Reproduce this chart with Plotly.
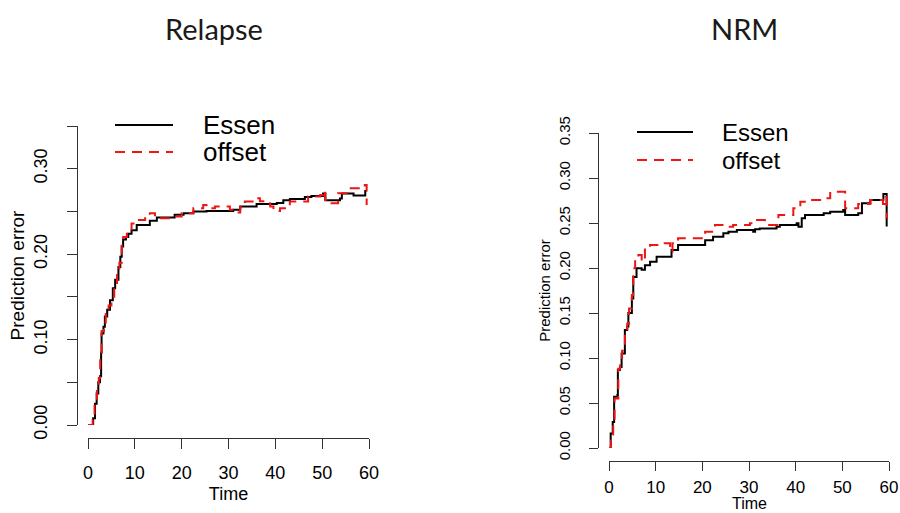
import plotly.graph_objects as go

W, H = 900, 513

# ---------------- data ----------------
relapse_essen_t = [0, 1.1, 1.5, 1.85, 2.2, 2.56, 2.8, 2.9, 3.3, 3.6, 4.1, 4.7, 5.3, 5.8, 6.5, 6.9, 7.2, 7.5,
                   8.1, 8.6, 9.3, 10.4, 13.2, 14.7, 18.5, 20.4, 22.5, 25.3, 31.0, 32.5, 36.0, 40.3, 41.7,
                   43.1, 46.3, 47.7, 50.2, 50.7, 53.8, 54.2, 56.7, 59.2, 59.5]
relapse_essen_y = [0, 0.008, 0.025, 0.037, 0.05, 0.057, 0.085, 0.107, 0.115, 0.127, 0.135, 0.146, 0.16, 0.17,
                   0.185, 0.197, 0.209, 0.217, 0.22, 0.224, 0.228, 0.234, 0.239, 0.243, 0.246, 0.248, 0.250,
                   0.2506, 0.252, 0.2557, 0.2588, 0.260, 0.263, 0.2646, 0.267, 0.268, 0.271, 0.263, 0.265,
                   0.271, 0.2685, 0.274, 0.274]

relapse_offset_t = [0, 1.0, 1.4, 1.9, 2.3, 2.6, 2.9, 3.4, 3.8, 4.4, 5.0, 5.6, 6.2, 6.7, 7.2, 7.5, 8.3, 9.3,
                    9.7, 12.2, 13.2, 14.3, 18.2, 20.0, 22.5, 24.6, 25.3, 27.1, 30.3, 31.4, 32.5, 33.5, 36.0,
                    36.7, 38.9, 39.6, 41.0, 43.1, 47.0, 49.6, 50.2, 50.6, 50.9, 53.4, 55.6, 59.1, 59.5]
relapse_offset_y = [0, 0.006, 0.03, 0.042, 0.055, 0.08, 0.11, 0.12, 0.13, 0.14, 0.15, 0.165, 0.18, 0.19,
                    0.215, 0.22, 0.226, 0.236, 0.24, 0.244, 0.248, 0.242, 0.244, 0.248, 0.2537, 0.2576,
                    0.2537, 0.2557, 0.252, 0.2486, 0.2549, 0.2615, 0.2654, 0.262, 0.2557, 0.2506, 0.2537,
                    0.2615, 0.2674, 0.2693, 0.2744, 0.2635, 0.2596, 0.2713, 0.277, 0.281, 0.2576]

nrm_essen_t = [0, 0.36, 0.8, 1.1, 1.8, 1.9, 2.36, 2.7, 3.4, 3.9, 4.15, 4.9, 5.2, 5.9, 7.0, 7.7, 8.8,
               10.2, 13.4, 14.8, 20.6, 22.3, 24.5, 25.6, 27.4, 30.9, 31.3, 32.3, 35.9, 36.6, 40.2, 40.6,
               41.3, 42.0, 46.0, 47.4, 50.2, 50.6, 53.4, 54.2, 56.0, 58.8, 59.4, 59.5]
nrm_essen_y = [0, 0.016, 0.029, 0.057, 0.059, 0.087, 0.09, 0.105, 0.131, 0.135, 0.15, 0.166, 0.19,
               0.1996, 0.198, 0.203, 0.207, 0.2126, 0.22, 0.2256, 0.2307, 0.2348, 0.2385, 0.2404, 0.2422,
               0.2404, 0.243, 0.244, 0.2459, 0.2478, 0.2496, 0.2459, 0.2552, 0.2589, 0.2607, 0.2626,
               0.2644, 0.2589, 0.2607, 0.2719, 0.2756, 0.2822, 0.2822, 0.246]

nrm_offset_t = [0, 0.4, 0.9, 1.2, 2.0, 2.4, 2.8, 3.4, 3.9, 4.3, 4.9, 5.2, 5.6, 6.3, 7.0, 7.7, 8.8, 10.9,
                13.1, 13.6, 14.8, 20.6, 22.7, 24.8, 26.6, 30.2, 30.9, 33.4, 36.3, 39.5, 41.0, 43.1, 45.6,
                47.4, 50.6, 53.4, 56.0, 58.7, 59.3, 59.5]
nrm_offset_y = [0, 0.015, 0.03, 0.055, 0.088, 0.092, 0.108, 0.128, 0.138, 0.155, 0.17, 0.1996, 0.2089,
                0.2144, 0.2074, 0.2237, 0.2256, 0.2274, 0.218, 0.2274, 0.233, 0.2404, 0.2478, 0.2459,
                0.2478, 0.2496, 0.2533, 0.2478, 0.2589, 0.2663, 0.2737, 0.2756, 0.2774, 0.2848, 0.2663,
                0.271, 0.2756, 0.271, 0.279, 0.2552]

panel_titles = ["Relapse", "NRM"]
series_names = ["Essen", "offset"]
x_title = "Time"
y_title = "Prediction error"
x_ticks = [0, 10, 20, 30, 40, 50, 60]
y_ticks = [0, 0.05, 0.10, 0.15, 0.20, 0.25, 0.30, 0.35]
left_y_labels = ["0.00", "", "0.10", "", "0.20", "", "0.30", ""]
right_y_labels = ["0.00", "0.05", "0.10", "0.15", "0.20", "0.25", "0.30", "0.35"]

# ---------------- figure ----------------
AX_FONT = "Liberation Sans, Arial, sans-serif"
TITLE_FONT = "Lato, Open Sans, sans-serif"
RED = "#ee1515"
BLACK_LINE = dict(color="black", width=2)
RED_LINE = dict(color=RED, width=2, dash="10px,7px")

fig = go.Figure()
fig.add_trace(go.Scatter(x=relapse_essen_t, y=relapse_essen_y, mode="lines", line_shape="hv",
                         line=BLACK_LINE, name=series_names[0], xaxis="x", yaxis="y", showlegend=False))
fig.add_trace(go.Scatter(x=relapse_offset_t, y=relapse_offset_y, mode="lines", line_shape="hv",
                         line=RED_LINE, name=series_names[1], xaxis="x", yaxis="y", showlegend=False))
fig.add_trace(go.Scatter(x=nrm_essen_t, y=nrm_essen_y, mode="lines", line_shape="hv",
                         line=BLACK_LINE, name=series_names[0], xaxis="x2", yaxis="y2", showlegend=False))
fig.add_trace(go.Scatter(x=nrm_offset_t, y=nrm_offset_y, mode="lines", line_shape="hv",
                         line=RED_LINE, name=series_names[1], xaxis="x2", yaxis="y2", showlegend=False))


def px_x(p):
    return p / W


def px_y(p):
    return 1 - p / H


common_axis = dict(showline=True, linecolor="#333", linewidth=1, ticks="outside", tickcolor="#333",
                   showgrid=False, zeroline=False, tickfont=dict(family=AX_FONT, size=18, color="black"),
                   fixedrange=True, automargin=False)

# legend keys (paper-space shapes) and labels, in the style of R's legend()
legend_specs = [
    dict(x0=115, x1=173, y_rows=[125, 152], tx=201, size=26),
    dict(x0=637, x1=693, y_rows=[132, 160], tx=720, size=24),
]
shapes, annotations = [], []
for spec in legend_specs:
    for name, yrow, style in zip(series_names, spec["y_rows"], [BLACK_LINE, RED_LINE]):
        shapes.append(dict(type="line", xref="paper", yref="paper", x0=px_x(spec["x0"]), x1=px_x(spec["x1"]),
                           y0=px_y(yrow), y1=px_y(yrow), line=style))
        annotations.append(dict(text=name, x=px_x(spec["tx"]), y=px_y(yrow), xref="paper", yref="paper",
                                showarrow=False, xanchor="left", yanchor="middle",
                                font=dict(family=AX_FONT, size=spec["size"], color="black")))

for title, cx in zip(panel_titles, [214, 744]):
    annotations.append(dict(text=title, x=px_x(cx), y=px_y(28), xref="paper", yref="paper", showarrow=False,
                            font=dict(family=TITLE_FONT, size=29, color="#1a1a1a"),
                            xanchor="center", yanchor="middle"))

# right panel x title sits at the very bottom edge
annotations.append(dict(text=x_title, x=px_x(749), y=0, xref="paper", yref="paper", showarrow=False,
                        xanchor="center", yanchor="bottom", borderpad=0,
                        font=dict(family=AX_FONT, size=16, color="black")))

fig.update_layout(
    width=W, height=H,
    margin=dict(l=0, r=0, t=0, b=0, pad=0),
    paper_bgcolor="white", plot_bgcolor="white",
    xaxis=dict(common_axis, domain=[px_x(88), px_x(369)], range=[0, 60], anchor="free",
               position=px_y(438), tickvals=x_ticks, ticklen=10, ticklabelstandoff=8,
               title=dict(text=x_title, font=dict(family=AX_FONT, size=18, color="black"), standoff=5)),
    yaxis=dict(common_axis, domain=[px_y(425), px_y(126)], range=[0, 0.35], anchor="free",
               position=px_x(77), tickvals=y_ticks, ticktext=left_y_labels, ticklen=10, tickangle=-90,
               ticklabelstandoff=13,
               title=dict(text=y_title, font=dict(family=AX_FONT, size=19, color="black"),
                          standoff=0)),
    xaxis2=dict(common_axis, domain=[px_x(609), px_x(889)], range=[0, 60], anchor="free",
                position=px_y(461), tickvals=x_ticks, ticklen=9, ticklabelstandoff=2,
                tickfont=dict(family=AX_FONT, size=17, color="black")),
    yaxis2=dict(common_axis, domain=[px_y(448), px_y(133)], range=[0, 0.35], anchor="free",
                position=px_x(598), tickvals=y_ticks, ticktext=right_y_labels, ticklen=9, tickangle=-90,
                ticklabelstandoff=13, tickfont=dict(family=AX_FONT, size=15, color="black"),
                title=dict(text=y_title, font=dict(family=AX_FONT, size=15, color="black"),
                           standoff=0)),
    shapes=shapes,
    annotations=annotations,
)

fig.write_html("out.html")
